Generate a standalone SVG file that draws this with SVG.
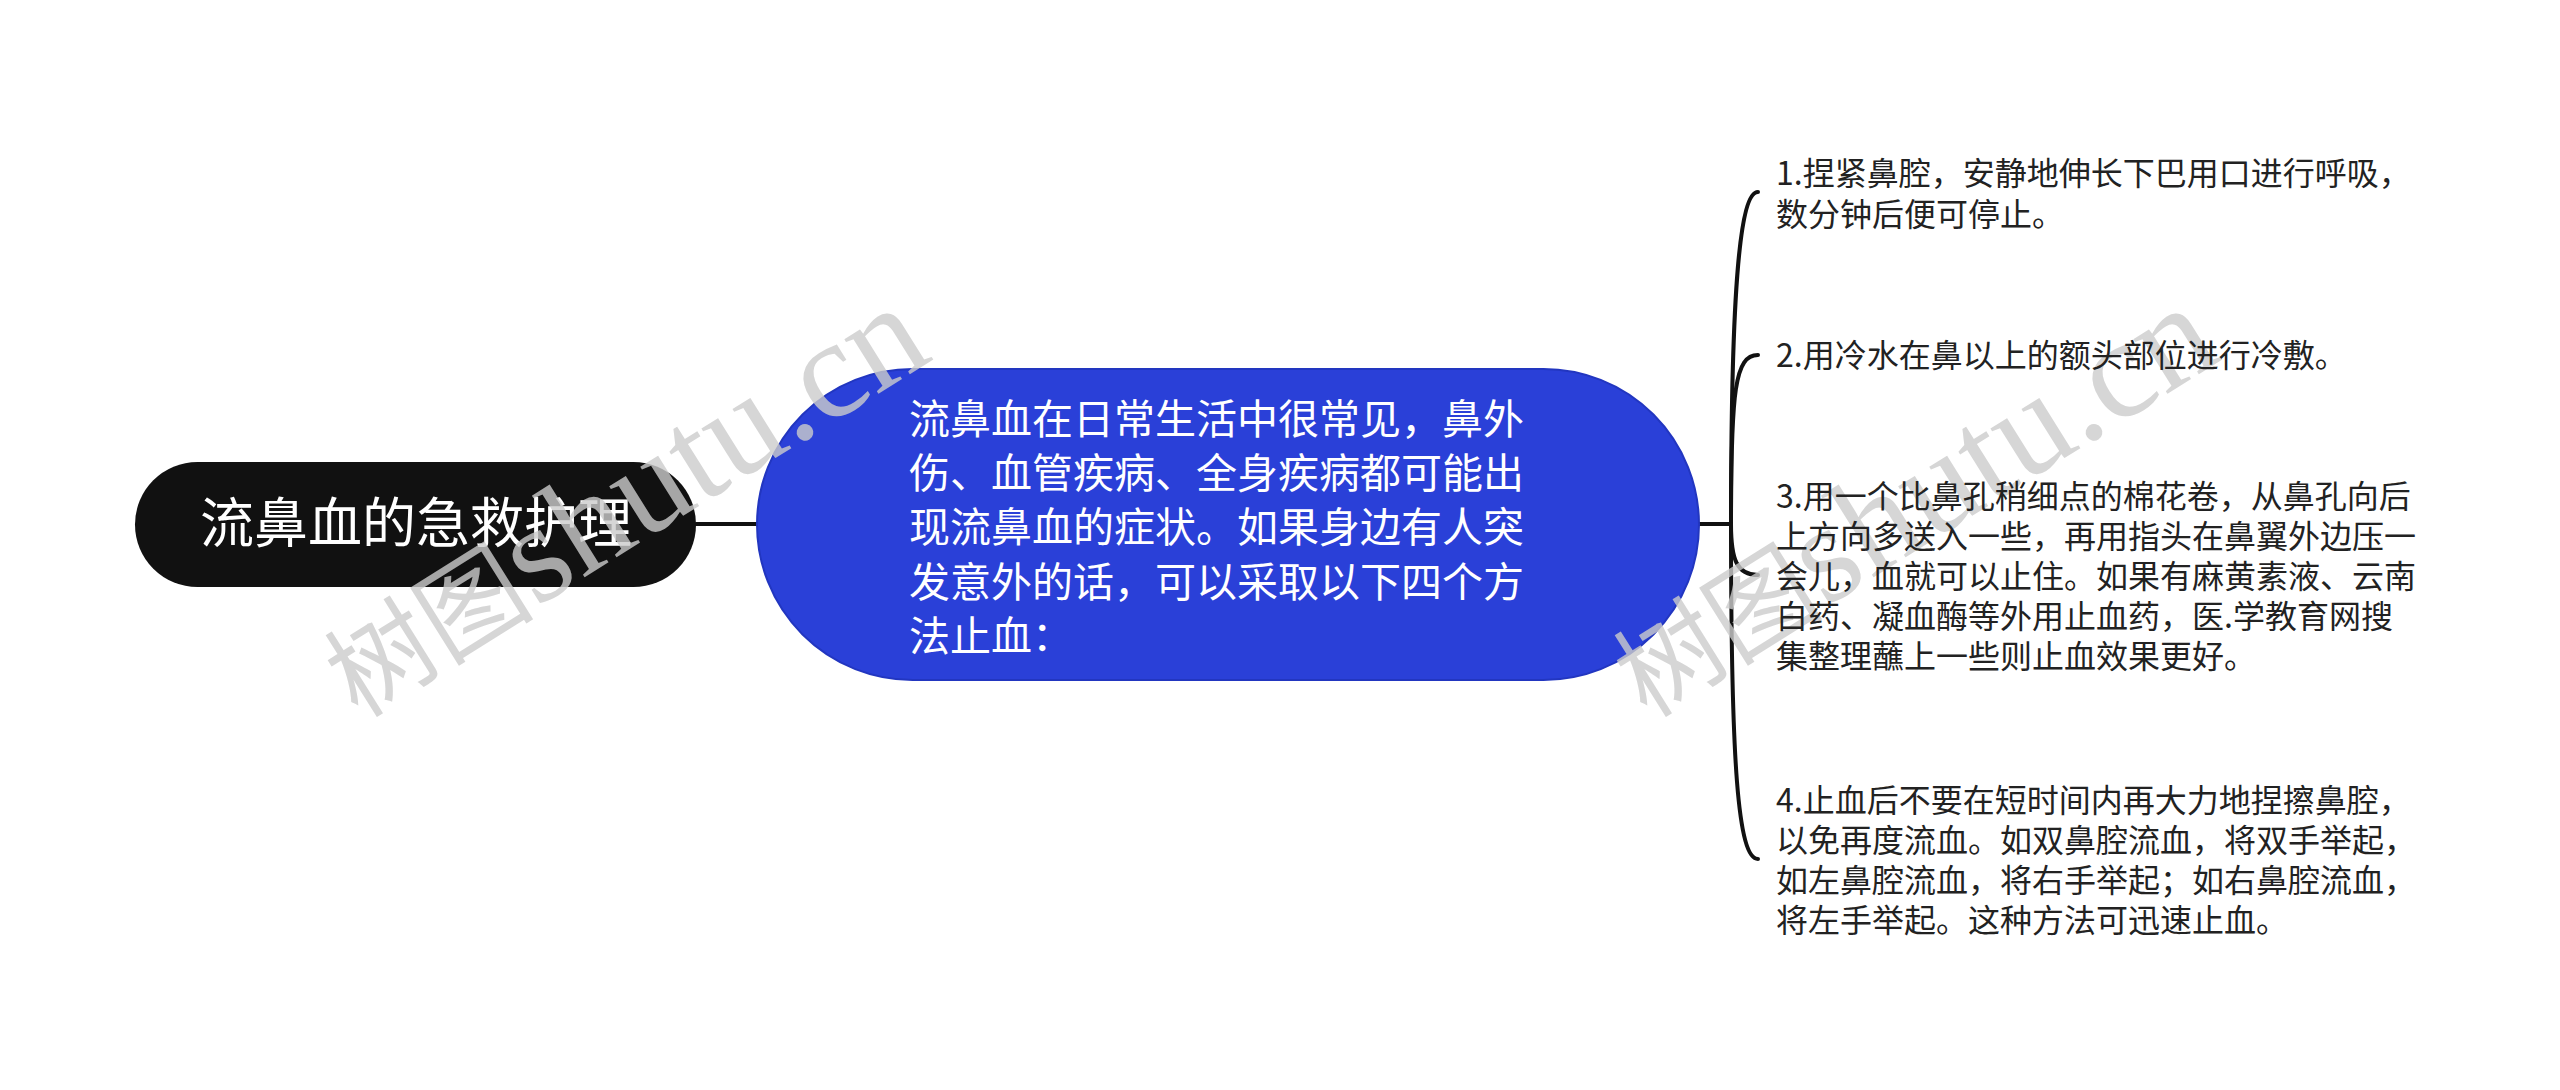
<svg xmlns="http://www.w3.org/2000/svg" width="2560" height="1090" viewBox="0 0 2560 1090">
<style>
.cjk{font-family:"Noto Sans CJK SC","Noto Sans",sans-serif}
.root-t{font-size:54px;fill:#ffffff}
.main-t{font-size:41px;fill:#ffffff}
.leaf-t{font-size:32px;fill:#222222}
.link{fill:none;stroke:#111111;stroke-width:4;stroke-linecap:round}
.wm{font-family:"Liberation Serif","Noto Sans CJK SC",serif;font-size:105px;fill:#cccccc;opacity:0.8}
.wm-l{font-size:140px}
</style>
<rect width="2560" height="1090" fill="#ffffff"/>
<g id="connectors">
<path class="link" d="M696 524 L757 524"/>
<path class="link" d="M1699 524 L1731 524"/>
<path class="link" d="M1731 524 C1731 285 1740 192 1758 192"/>
<path class="link" d="M1731 524 C1731 390 1735 355 1758 355"/>
<path class="link" d="M1731 524 C1731 560 1737 575 1758 575"/>
<path class="link" d="M1731 524 C1731 765 1738 859 1758 859"/>
</g>
<g id="root">
<rect x="135" y="462" width="561" height="125" rx="62.5" fill="#111111"/>
<text class="cjk root-t" x="416" y="543" text-anchor="middle">流鼻血的急救护理</text>
</g>
<g id="main">
<rect x="757" y="369" width="942" height="311" rx="155.5" fill="#2a40d8" stroke="#2236c0" stroke-width="2"/>
<text class="cjk main-t">
<tspan x="909" y="434">流鼻血在日常生活中很常见，鼻外</tspan>
<tspan x="909" y="488">伤、血管疾病、全身疾病都可能出</tspan>
<tspan x="909" y="542">现流鼻血的症状。如果身边有人突</tspan>
<tspan x="909" y="597">发意外的话，可以采取以下四个方</tspan>
<tspan x="909" y="651">法止血：</tspan>
</text>
</g>
<g id="watermarks">
<text class="wm" transform="translate(358 719) rotate(-32)">树图<tspan class="wm-l">shutu.cn</tspan></text>
<text class="wm" transform="translate(1647 719) rotate(-32)">树图<tspan class="wm-l">shutu.cn</tspan></text>
</g>
<g id="item1">
<text class="cjk leaf-t">
<tspan x="1776" y="185">1.捏紧鼻腔，安静地伸长下巴用口进行呼吸，</tspan>
<tspan x="1776" y="226">数分钟后便可停止。</tspan>
</text>
</g>
<g id="item2">
<text class="cjk leaf-t"><tspan x="1776" y="367">2.用冷水在鼻以上的额头部位进行冷敷。</tspan></text>
</g>
<g id="item3">
<text class="cjk leaf-t">
<tspan x="1776" y="508">3.用一个比鼻孔稍细点的棉花卷，从鼻孔向后</tspan>
<tspan x="1776" y="548">上方向多送入一些，再用指头在鼻翼外边压一</tspan>
<tspan x="1776" y="588">会儿，血就可以止住。如果有麻黄素液、云南</tspan>
<tspan x="1776" y="628">白药、凝血酶等外用止血药，医.学教育网搜</tspan>
<tspan x="1776" y="668">集整理蘸上一些则止血效果更好。</tspan>
</text>
</g>
<g id="item4">
<text class="cjk leaf-t">
<tspan x="1776" y="812">4.止血后不要在短时间内再大力地捏擦鼻腔，</tspan>
<tspan x="1776" y="852">以免再度流血。如双鼻腔流血，将双手举起，</tspan>
<tspan x="1776" y="892">如左鼻腔流血，将右手举起；如右鼻腔流血，</tspan>
<tspan x="1776" y="932">将左手举起。这种方法可迅速止血。</tspan>
</text>
</g>
</svg>
